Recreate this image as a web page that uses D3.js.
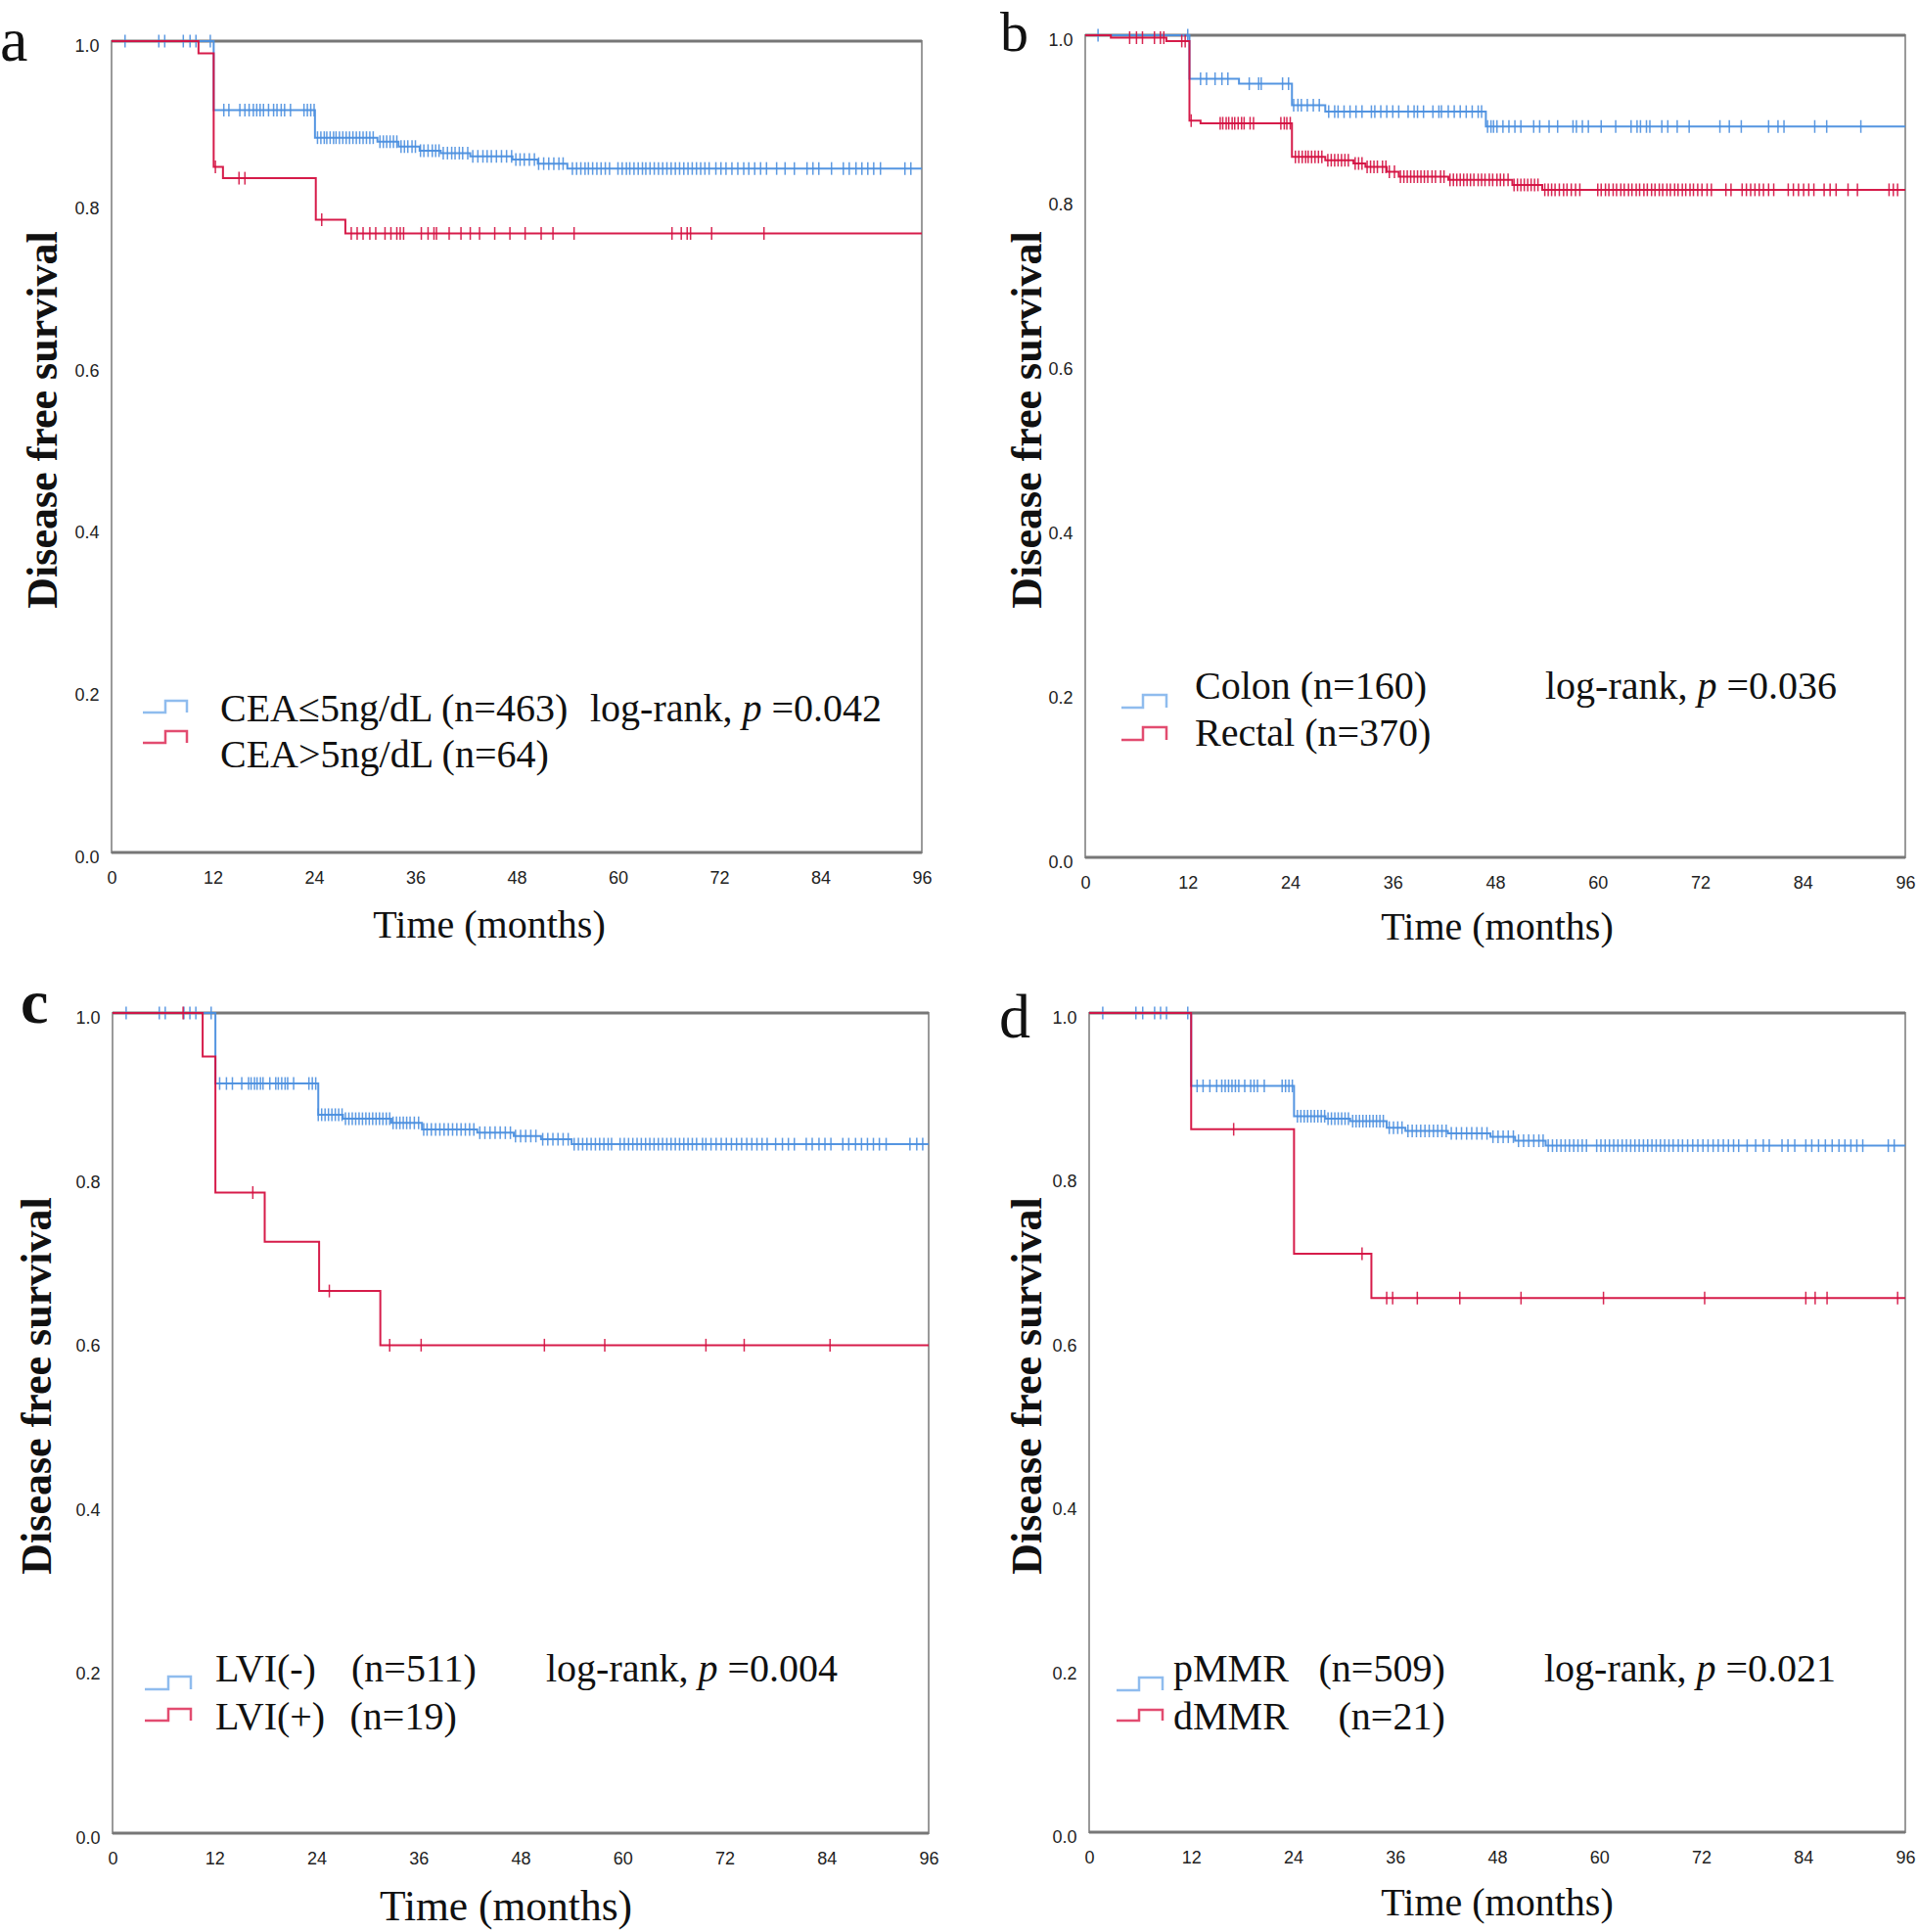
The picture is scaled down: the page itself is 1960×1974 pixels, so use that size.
<!DOCTYPE html>
<html>
<head>
<meta charset="utf-8">
<script src="https://cdn.jsdelivr.net/npm/d3@7"></script>
<style>
  html, body { margin: 0; padding: 0; background: #fff; }
  svg { display: block; }
</style>
</head>
<body>
<svg id="chart" width="1960" height="1974"></svg>
<script>
// ---------------- DATA ----------------
const timeTicks = [0, 12, 24, 36, 48, 60, 72, 84, 96];
const survTicks = [0, 0.2, 0.4, 0.6, 0.8, 1.0];
const panelLetters = ["a", "b", "c", "d"];
const xTitle = "Time (months)";
const yTitle = "Disease free survival";

// Panel a: CEA
const aLabels = ["CEA\u22645ng/dL (n=463)", "CEA>5ng/dL (n=64)"];
const aPValue = "0.042";
const aBlueT = [0, 12.1, 24.1, 31.5, 34.0, 36.5, 39.0, 42.5, 47.5, 50.5, 54.0];
const aBlueS = [1.0, 0.915, 0.881, 0.876, 0.870, 0.865, 0.862, 0.858, 0.854, 0.849, 0.843];
const aBlueC = [1.6, 5.6, 6.3, 8.5, 9.3, 10.0, 11.7,
  13.3, 13.9, 15.2, 15.8, 16.3, 16.8, 17.2, 17.6, 18.0, 18.6, 19.2, 19.6, 20.1, 20.5, 21.2, 22.8, 23.2, 23.6, 24.0,
  24.4, 24.8, 25.2, 25.5, 25.9, 26.3, 26.6, 27.0, 27.4, 27.8, 28.2, 28.6, 29.0, 29.4, 29.8, 30.2, 30.6, 31.0,
  31.8, 32.2, 32.6, 33.0, 33.4, 33.8, 34.3, 34.7, 35.1, 35.6, 36.0, 36.6, 37.0, 37.5, 38.0, 38.4, 38.8, 39.3, 39.8,
  40.3, 40.7, 41.2, 41.6, 42.2, 42.8, 43.4, 44.0, 44.5, 45.0, 45.6, 46.2, 46.8, 47.4, 47.9, 48.4, 48.9, 49.5, 50.1,
  50.6, 51.2, 51.8, 52.4, 53.0, 53.5,
  54.6, 55.1, 55.6, 56.1, 56.5, 57.0, 57.5, 58.0, 58.5, 59.0, 60.0, 60.5, 61.0, 61.4, 61.9, 62.4, 62.9, 63.3, 63.8,
  64.3, 64.8, 65.3, 65.8, 66.3, 66.8, 67.3, 67.8, 68.3, 68.8, 69.3, 69.8, 70.3, 70.8, 71.6, 72.2, 72.8, 73.5, 74.2,
  74.9, 75.5, 76.2, 76.9, 77.6, 78.8, 79.8, 80.9, 82.4, 83.1, 83.8, 85.3, 86.7, 87.4, 88.2, 88.9, 89.6, 90.3, 91.1,
  94.0, 94.7];
const aRedT = [0, 10.3, 12.1, 13.2, 24.2, 27.7];
const aRedS = [1.0, 0.985, 0.845, 0.831, 0.780, 0.763];
const aRedC = [12.3, 15.1, 15.8, 24.9, 28.4, 29.1, 29.8, 30.6, 31.3, 32.4, 33.1, 33.8, 34.2, 34.6, 36.7, 37.5, 38.2,
  38.5, 40.0, 41.4, 42.5, 43.6, 45.4, 47.2, 49.0, 50.9, 52.3, 54.8, 66.4, 67.5, 68.2, 68.6, 71.1, 77.3];

// Panel b: Colon vs Rectal
const bLabels = ["Colon (n=160)", "Rectal (n=370)"];
const bPValue = "0.036";
const bBlueT = [0, 12.2, 18.0, 24.2, 28.1, 46.9];
const bBlueS = [1.0, 0.947, 0.941, 0.915, 0.907, 0.889];
const bBlueC = [1.5, 12.0, 13.5, 14.2, 15.2, 16.0, 16.7, 19.2, 20.3, 20.6, 23.1, 23.8, 24.4, 24.9, 25.3, 26.0, 26.7,
  27.4, 28.5, 29.2, 29.6, 30.3, 31.0, 31.7, 32.4, 33.5, 33.9, 34.6, 35.3, 36.0, 36.7, 37.8, 38.5, 38.9, 39.6, 40.7,
  41.4, 41.7, 42.5, 43.2, 43.9, 44.6, 45.3, 46.0, 46.4, 47.1, 47.5, 47.8, 48.2, 48.9, 49.6, 50.3, 51.0, 52.5, 53.2,
  54.3, 55.3, 57.1, 57.5, 58.2, 58.9, 60.4, 62.1, 63.9, 64.6, 65.0, 65.7, 66.1, 67.5, 68.2, 69.3, 70.7, 74.3, 75.4,
  76.8, 80.0, 81.1, 81.8, 85.4, 86.8, 90.8];
const bRedT = [0, 3.0, 9.5, 12.2, 13.5, 24.2, 28.1, 31.4, 32.8, 35.3, 36.7, 42.5, 50.0, 53.5];
const bRedS = [1.0, 0.997, 0.993, 0.896, 0.893, 0.852, 0.848, 0.844, 0.840, 0.834, 0.828, 0.824, 0.818, 0.812];
const bRedC = [5.2, 6.0, 6.7, 8.1, 8.8, 9.2, 11.3, 11.7, 12.4,
  15.8, 16.1, 16.5, 16.8, 17.2, 17.5, 17.9, 18.3, 18.6, 19.3, 19.7, 22.9, 23.3, 23.6, 24.0,
  24.6, 25.0, 25.4, 25.8, 26.1, 26.5, 26.9, 27.3, 27.7, 28.4, 28.8, 29.2, 29.6, 30.0, 30.4, 30.8, 31.6, 32.0, 32.4,
  33.0, 33.4, 33.8, 34.2, 34.8, 35.2, 35.6, 36.2, 36.9, 37.3, 37.7, 38.1, 38.5, 38.9, 39.3, 39.7, 40.1, 40.6, 41.0,
  41.6, 42.0, 42.7, 43.1, 43.5, 43.9, 44.3, 44.7, 45.1, 45.5, 46.0, 46.4, 46.8, 47.3, 47.7, 48.2, 48.6, 49.0, 49.5,
  50.2, 50.6, 51.0, 51.4, 51.8, 52.2, 52.6, 53.0, 53.8, 54.2, 54.6, 55.0, 55.5, 56.0, 56.4, 56.9, 57.4, 57.9,
  60.0, 60.4, 60.9, 61.3, 61.8, 62.2, 62.7, 63.1, 63.6, 64.0, 64.5, 64.9, 65.4, 65.8, 66.3, 66.7, 67.2, 67.6, 68.1,
  68.5, 69.0, 69.4, 69.9, 70.3, 70.8, 71.2, 71.7, 72.2, 72.8, 73.3, 75.0, 75.6, 76.9, 77.4, 77.9, 78.4, 78.9, 79.4,
  80.0, 80.6, 82.3, 82.9, 83.5, 84.1, 84.7, 85.3, 86.5, 87.2, 87.9, 89.3, 90.4, 94.1, 94.6, 95.1];

// Panel c: LVI
const cLabels = ["LVI(-)", "(n=511)", "LVI(+)", "(n=19)"];
const cPValue = "0.004";
const cBlueT = [0, 12.1, 24.2, 27.1, 32.8, 36.4, 42.9, 47.2, 50.4, 54.0];
const cBlueS = [1.0, 0.914, 0.876, 0.871, 0.866, 0.858, 0.854, 0.850, 0.846, 0.840];
const cBlueC = [1.6, 5.5, 6.2, 8.4, 9.1, 9.8, 11.6,
  12.6, 13.4, 14.1, 15.2, 16.0, 16.3, 16.7, 17.0, 17.4, 17.7, 18.5, 19.2, 19.5, 19.9, 20.3, 20.6, 21.3, 23.1, 23.5, 23.9, 24.2,
  24.6, 25.0, 25.4, 25.8, 26.2, 26.6, 27.0, 27.4, 27.8, 28.2, 28.6, 29.0, 29.4, 29.8, 30.2, 30.6, 31.0, 31.4, 31.8,
  32.2, 32.6, 33.0, 33.4, 33.8, 34.2, 34.6, 35.0, 35.5, 36.0, 36.6, 37.0, 37.5, 38.0, 38.5, 39.0, 39.5, 40.0, 40.5,
  41.0, 41.5, 42.0, 42.5, 43.2, 43.8, 44.4, 45.0, 45.6, 46.2, 46.8, 47.4, 48.0, 48.6, 49.2, 49.8, 50.6, 51.2, 51.8,
  52.4, 53.0, 53.6,
  54.3, 54.8, 55.3, 55.8, 56.3, 56.8, 57.3, 57.8, 58.3, 58.7, 59.7, 60.2, 60.7, 61.2, 61.7, 62.2, 62.7, 63.2, 63.7,
  64.2, 64.7, 65.2, 65.7, 66.2, 66.7, 67.2, 67.7, 68.2, 68.7, 69.4, 69.8, 70.4, 71.0, 71.6, 72.2, 72.8, 73.4, 74.0,
  74.6, 75.2, 75.8, 76.4, 77.0, 78.0, 78.8, 79.5, 80.2, 81.6, 82.3, 83.1, 83.8, 84.5, 85.9, 86.6, 87.4, 88.1, 88.8,
  89.5, 90.2, 91.0, 93.8, 94.6, 95.3];
const cRedT = [0, 10.6, 12.1, 17.9, 24.3, 31.5];
const cRedS = [1.0, 0.947, 0.781, 0.721, 0.661, 0.595];
const cRedC = [8.3, 16.5, 25.5, 32.6, 36.3, 50.8, 57.9, 69.8, 74.3, 84.4];

// Panel d: MMR
const dLabels = ["pMMR", "(n=509)", "dMMR", "(n=21)"];
const dPValue = "0.021";
const dBlueT = [0, 12.0, 24.1, 27.8, 30.7, 35.0, 37.2, 42.2, 47.2, 50.1, 53.7];
const dBlueS = [1.0, 0.911, 0.874, 0.871, 0.868, 0.860, 0.856, 0.853, 0.849, 0.844, 0.838];
const dBlueC = [1.6, 5.5, 6.3, 7.7, 8.4, 9.1, 11.6,
  12.7, 13.4, 14.2, 15.0, 15.6, 16.0, 16.4, 16.8, 17.2, 17.6, 18.3, 19.0, 19.4, 19.8, 20.6, 22.7, 23.1, 23.5, 23.9,
  24.5, 24.9, 25.3, 25.7, 26.1, 26.5, 26.9, 27.3, 27.7, 28.1, 28.5, 28.9, 29.3, 29.7, 30.1, 30.5, 31.0, 31.4, 31.8,
  32.2, 32.6, 33.0, 33.4, 33.8, 34.2, 34.6, 35.3, 35.8, 36.3, 36.8, 37.5, 38.0, 38.5, 39.0, 39.5, 40.0, 40.5, 41.0,
  41.5, 42.0, 42.6, 43.2, 43.8, 44.4, 45.0, 45.6, 46.2, 46.8, 47.5, 48.1, 48.7, 49.3, 49.9, 50.5, 51.1, 51.7, 52.3,
  52.9, 53.4,
  54.0, 54.5, 55.0, 55.5, 56.0, 56.5, 57.0, 57.5, 58.0, 58.5, 59.7, 60.2, 60.7, 61.2, 61.7, 62.2, 62.7, 63.2, 63.7,
  64.2, 64.7, 65.2, 65.7, 66.2, 66.7, 67.2, 67.7, 68.2, 68.7, 69.3, 69.8, 70.4, 71.0, 71.6, 72.2, 72.8, 73.4, 74.0,
  74.6, 75.2, 75.8, 76.4, 77.4, 78.4, 79.3, 80.0, 81.5, 82.2, 83.0, 84.3, 85.0, 85.8, 86.6, 87.4, 88.2, 88.9, 89.6,
  90.3, 91.0, 94.0, 94.7];
const dRedT = [0, 12.0, 24.1, 33.2];
const dRedS = [1.0, 0.858, 0.706, 0.652];
const dRedC = [17.0, 32.1, 35.0, 35.7, 38.6, 43.6, 50.8, 60.5, 72.4, 84.3, 85.4, 86.8, 95.1];

// ---------------- STYLE / LAYOUT ----------------
const BLUE = "#4b8fdf", RED = "#d41040";
const BLUE_L = "#8fbcee", RED_L = "#e24c70";
const SERIF = "'Liberation Serif', 'Times New Roman', serif";
const SANS = "'Liberation Sans', Arial, sans-serif";

const panels = [
  { L: 114, R: 942, T: 42, B: 871, letter: panelLetters[0], lx: 0, ly: 62, ls: 64, lBold: false,
    ytx: 58, yty: 429, xtx: 500, xty: 958, xts: 40,
    blue: [aBlueT, aBlueS, aBlueC], red: [aRedT, aRedS, aRedC],
    sym: { x0: 146, x1: 169, x2: 191, bLo: 728, bHi: 716, rLo: 759, rHi: 747 },
    texts: [[aLabels[0], 225, 737], [aLabels[1], 225, 784]], p: [aPValue, 603, 737] },
  { L: 1109, R: 1947, T: 36, B: 876, letter: panelLetters[1], lx: 1022, ly: 52, ls: 58, lBold: false,
    ytx: 1064, yty: 429, xtx: 1530, xty: 960, xts: 40,
    blue: [bBlueT, bBlueS, bBlueC], red: [bRedT, bRedS, bRedC],
    sym: { x0: 1146, x1: 1168, x2: 1192, bLo: 723, bHi: 710, rLo: 756, rHi: 743 },
    texts: [[bLabels[0], 1221, 714], [bLabels[1], 1221, 762]], p: [bPValue, 1579, 714] },
  { L: 115, R: 949, T: 1035, B: 1873, letter: panelLetters[2], lx: 21, ly: 1045, ls: 64, lBold: true,
    ytx: 52, yty: 1416, xtx: 517, xty: 1962, xts: 43.5,
    blue: [cBlueT, cBlueS, cBlueC], red: [cRedT, cRedS, cRedC],
    sym: { x0: 148, x1: 172, x2: 195, bLo: 1726, bHi: 1713, rLo: 1758, rHi: 1746 },
    texts: [[cLabels[0], 220, 1718], [cLabels[1], 359, 1718], [cLabels[2], 220, 1767], [cLabels[3], 357.5, 1767]],
    p: [cPValue, 558, 1718] },
  { L: 1113, R: 1947, T: 1035, B: 1872, letter: panelLetters[3], lx: 1021, ly: 1060, ls: 64, lBold: false,
    ytx: 1064, yty: 1416, xtx: 1530, xty: 1957, xts: 40,
    blue: [dBlueT, dBlueS, dBlueC], red: [dRedT, dRedS, dRedC],
    sym: { x0: 1141, x1: 1164, x2: 1188, bLo: 1727, bHi: 1714, rLo: 1758, rHi: 1747 },
    texts: [[dLabels[0], 1199, 1718], [dLabels[1], 1347.5, 1718], [dLabels[2], 1199, 1767], [dLabels[3], 1367.5, 1767]],
    p: [dPValue, 1578, 1718] }
];

const svg = d3.select("#chart");

function survAt(T, S, t) {
  let v = S[0];
  for (let i = 0; i < T.length; i++) { if (T[i] <= t) v = S[i]; }
  return v;
}

panels.forEach(p => {
  const g = svg.append("g");
  const x = d3.scaleLinear().domain([0, 96]).range([p.L, p.R]);
  const y = d3.scaleLinear().domain([0, 1]).range([p.B, p.T]);

  // frame
  g.append("rect").attr("x", p.L).attr("y", p.T).attr("width", p.R - p.L).attr("height", p.B - p.T)
    .attr("fill", "none").attr("stroke", "#9a9a9a").attr("stroke-width", 2);
  g.append("line").attr("x1", p.L).attr("x2", p.R).attr("y1", p.T).attr("y2", p.T)
    .attr("stroke", "#777").attr("stroke-width", 3);
  g.append("line").attr("x1", p.L).attr("x2", p.R).attr("y1", p.B).attr("y2", p.B)
    .attr("stroke", "#777").attr("stroke-width", 3);

  // axes
  const xa = g.append("g").attr("transform", `translate(0,${p.B})`)
    .call(d3.axisBottom(x).tickValues(timeTicks).tickSize(0).tickPadding(19).tickFormat(d3.format("d")));
  const ya = g.append("g").attr("transform", `translate(${p.L},0)`)
    .call(d3.axisLeft(y).tickValues(survTicks).tickSize(0).tickPadding(12.5).tickFormat(d3.format(".1f")));
  [xa, ya].forEach(a => {
    a.select(".domain").remove();
    a.selectAll("text").attr("font-family", SANS).attr("font-size", 18).attr("fill", "#222");
  });
  ya.selectAll("text").attr("dy", "0.58em");

  // curves
  const line = d3.line().x(d => x(d[0])).y(d => y(d[1])).curve(d3.curveStepAfter);
  [[p.blue, BLUE], [p.red, RED]].forEach(([ser, col]) => {
    const [T, S, C] = ser;
    const pts = T.map((t, i) => [t, S[i]]);
    pts.push([96, S[S.length - 1]]);
    g.append("path").attr("d", line(pts)).attr("fill", "none").attr("stroke", col)
      .attr("stroke-width", 2).attr("stroke-opacity", 0.95);
    g.selectAll(null).data(C).enter().append("line")
      .attr("x1", d => x(d)).attr("x2", d => x(d))
      .attr("y1", d => y(survAt(T, S, d)) - 6.5).attr("y2", d => y(survAt(T, S, d)) + 6.5)
      .attr("stroke", col).attr("stroke-width", 1.5).attr("stroke-opacity", 0.9);
  });

  // legend symbols
  const s = p.sym;
  g.append("path").attr("d", `M${s.x0},${s.bLo}H${s.x1}V${s.bHi}H${s.x2}V${s.bLo}`)
    .attr("fill", "none").attr("stroke", BLUE_L).attr("stroke-width", 2.5);
  g.append("path").attr("d", `M${s.x0},${s.rLo}H${s.x1}V${s.rHi}H${s.x2}V${s.rLo}`)
    .attr("fill", "none").attr("stroke", RED_L).attr("stroke-width", 2.5);

  // legend texts
  p.texts.forEach(([txt, tx, ty]) => {
    g.append("text").attr("x", tx).attr("y", ty).attr("font-family", SERIF).attr("font-size", 40)
      .attr("fill", "#111").text(txt);
  });
  const pt = g.append("text").attr("x", p.p[1]).attr("y", p.p[2]).attr("font-family", SERIF)
    .attr("font-size", 40).attr("fill", "#111");
  pt.append("tspan").text("log-rank, ");
  pt.append("tspan").attr("font-style", "italic").text("p");
  pt.append("tspan").text(" =" + p.p[0]);

  // axis titles
  g.append("text").attr("x", p.xtx).attr("y", p.xty).attr("text-anchor", "middle")
    .attr("font-family", SERIF).attr("font-size", p.xts).attr("fill", "#111").text(xTitle);
  g.append("text").attr("transform", `translate(${p.ytx},${p.yty}) rotate(-90)`)
    .attr("text-anchor", "middle").attr("font-family", SERIF).attr("font-weight", "bold")
    .attr("font-size", 44).attr("fill", "#111").text(yTitle);

  // panel letter
  g.append("text").attr("x", p.lx).attr("y", p.ly).attr("font-family", SERIF)
    .attr("font-weight", p.lBold ? "bold" : "normal").attr("font-size", p.ls).attr("fill", "#111")
    .text(p.letter);
});
</script>
</body>
</html>
